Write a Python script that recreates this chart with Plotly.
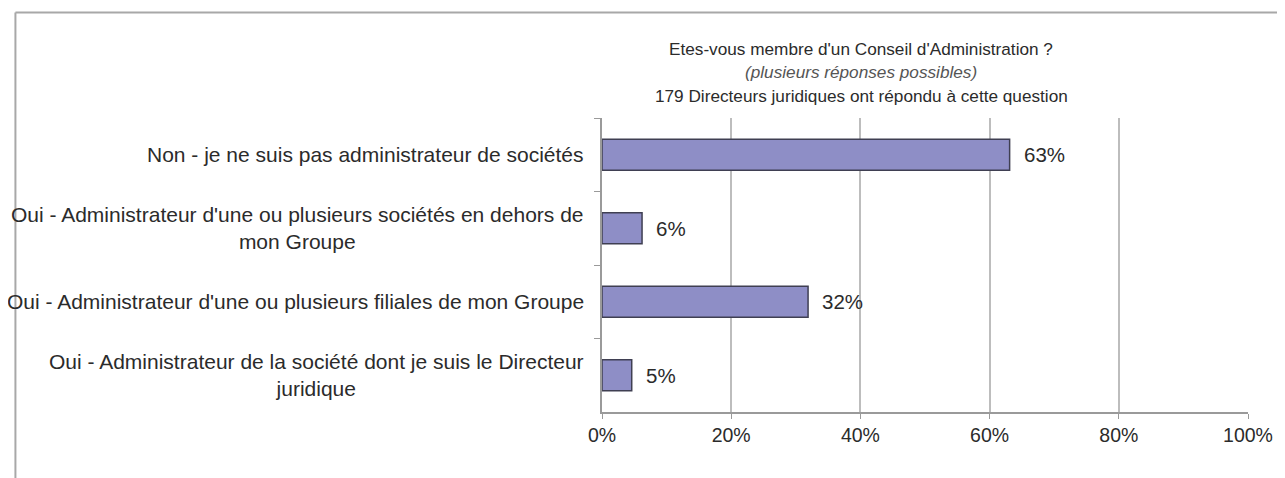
import plotly.graph_objects as go

categories = [
    "Non - je ne suis pas administrateur de sociétés",
    "Oui - Administrateur d'une ou plusieurs sociétés en dehors de<br>mon Groupe",
    "Oui - Administrateur d'une ou plusieurs filiales de mon Groupe",
    "Oui - Administrateur de la société dont je suis le Directeur<br>juridique",
]
values = [63.1, 6.2, 31.9, 4.6]
labels = ["63%", "6%", "32%", "5%"]
x_ticks = [0, 20, 40, 60, 80, 100]
x_ticklabels = ["0%", "20%", "40%", "60%", "80%", "100%"]
title_lines = [
    "Etes-vous membre d'un Conseil d'Administration ?",
    "<i>(plusieurs réponses possibles)</i>",
    "179 Directeurs juridiques ont répondu à cette question",
]

OFF = 8  # default page body margin
W, H = 1285 - OFF, 478 - OFF
# plot area in screen pixels, converted to figure pixels
L, R, T, B = 601.7 - OFF, 1255.0 - OFF, 118.0 - OFF, 411.7 - OFF
pw, ph = R - L, B - T

def px_x(p):
    return (p - OFF - L) / pw

def px_y(p):
    return (B - (p - OFF)) / ph

FONT = "Liberation Sans, Arial, sans-serif"
TXT = "#2b2b2b"

fig = go.Figure()
fig.add_trace(go.Bar(
    y=categories, x=values, orientation="h",
    marker=dict(color="#8e8ec6", line=dict(color="#3f3f52", width=1.5)),
    width=0.42, hoverinfo="skip",
))

annotations = []
for c, v, lab in zip(categories, values, labels):
    annotations.append(dict(
        x=v, y=c, xref="x", yref="y", text=lab, showarrow=False,
        xanchor="left", yanchor="middle", xshift=12,
        font=dict(family=FONT, size=20.5, color=TXT),
    ))
    annotations.append(dict(
        x=0, y=c, xref="paper", yref="y", text=c, showarrow=False,
        xanchor="right", yanchor="middle", align="center", xshift=-16,
        font=dict(family=FONT, size=21, color=TXT),
    ))

title_y = [49, 72, 96]
title_colors = [TXT, "#555555", TXT]
for line, yy, col in zip(title_lines, title_y, title_colors):
    annotations.append(dict(
        x=px_x(864), y=px_y(yy), xref="paper", yref="paper", text=line,
        showarrow=False, xanchor="center", yanchor="middle",
        font=dict(family=FONT, size=17.2, color=col),
    ))

shapes = [
    dict(type="line", xref="paper", yref="paper",
         x0=px_x(8.5), x1=px_x(1300), y0=px_y(12.5), y1=px_y(12.5),
         line=dict(color="#a8a8a8", width=2)),
    dict(type="line", xref="paper", yref="paper",
         x0=px_x(8.5), x1=px_x(8.5), y0=px_y(12.5), y1=px_y(500),
         line=dict(color="#a8a8a8", width=2)),
]

fig.update_layout(
    width=W, height=H, autosize=False,
    margin=dict(l=L, r=W - R, t=T, b=H - B, pad=0),
    paper_bgcolor="white", plot_bgcolor="white",
    showlegend=False,
    annotations=annotations, shapes=shapes,
    xaxis=dict(
        range=[0, 100], tickvals=x_ticks, ticktext=x_ticklabels,
        showgrid=True, gridcolor="#bdbdbd", gridwidth=1.5,
        showline=True, linecolor="#9a9a9a", linewidth=1.5,
        ticks="outside", ticklen=5, tickcolor="#9a9a9a",
        tickfont=dict(family=FONT, size=19.5, color=TXT),
        zeroline=False, fixedrange=True,
    ),
    yaxis=dict(
        categoryorder="array", categoryarray=categories,
        autorange="reversed", showticklabels=False,
        showline=True, linecolor="#9a9a9a", linewidth=1.5,
        ticks="outside", ticklen=6, tickcolor="#9a9a9a",
        tickson="boundaries", showgrid=False, fixedrange=True,
    ),
)

fig.write_html("out.html")
